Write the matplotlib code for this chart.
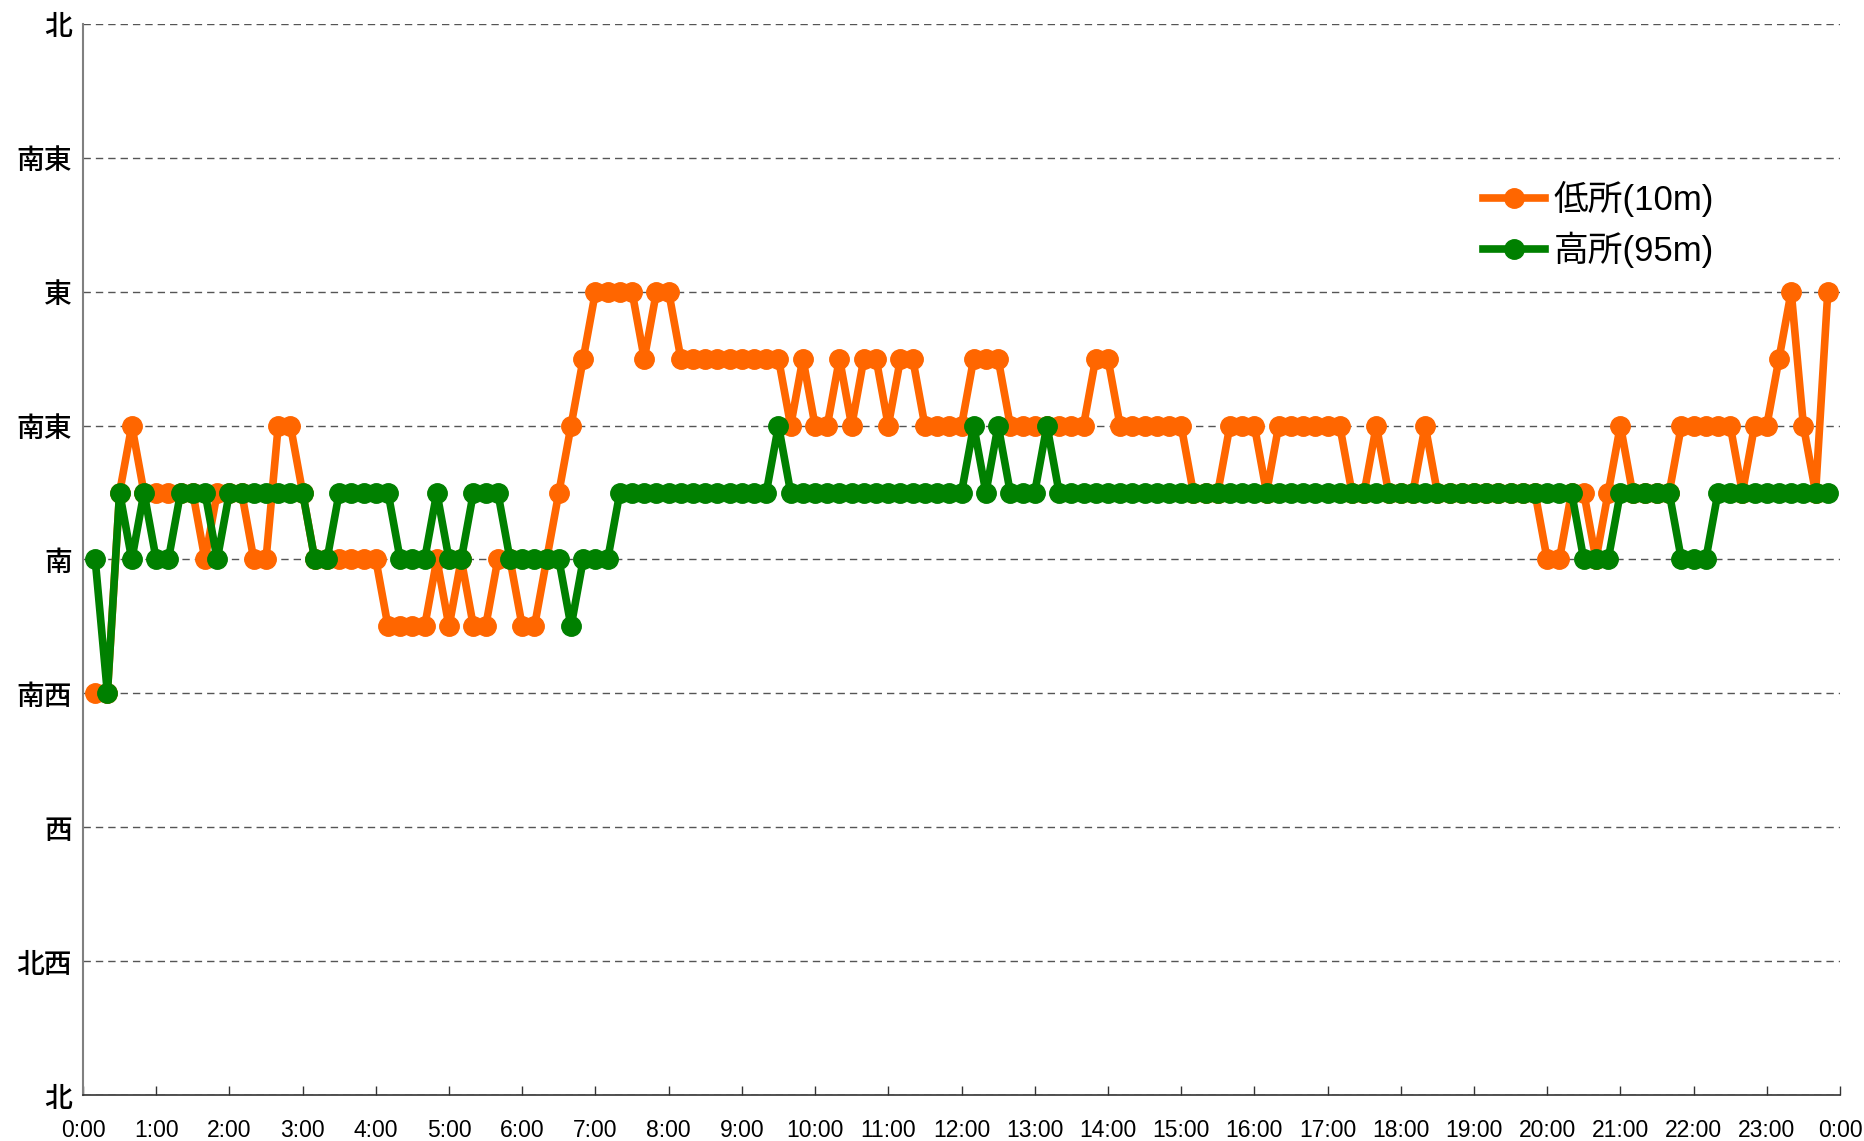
import matplotlib
matplotlib.use('Agg')
import matplotlib.pyplot as plt

# Wind direction every 10 minutes (0:10 .. 23:50).
# Scale: 0=北, 1=北西, 2=西, 3=南西, 4=南, 5=南東, 6=東, 7=北東, 8=北 (half steps = 16-point bearings)
minutes = list(range(10, 1440, 10))

low_10m = [
    3, 3, 4.5, 5, 4.5, 4.5, 4.5, 4.5, 4.5, 4, 4.5, 4.5,
    4.5, 4, 4, 5, 5, 4.5, 4, 4, 4, 4, 4, 4,
    3.5, 3.5, 3.5, 3.5, 4, 3.5, 4, 3.5, 3.5, 4, 4, 3.5,
    3.5, 4, 4.5, 5, 5.5, 6, 6, 6, 6, 5.5, 6, 6,
    5.5, 5.5, 5.5, 5.5, 5.5, 5.5, 5.5, 5.5, 5.5, 5, 5.5, 5,
    5, 5.5, 5, 5.5, 5.5, 5, 5.5, 5.5, 5, 5, 5, 5,
    5.5, 5.5, 5.5, 5, 5, 5, 5, 5, 5, 5, 5.5, 5.5,
    5, 5, 5, 5, 5, 5, 4.5, 4.5, 4.5, 5, 5, 5,
    4.5, 5, 5, 5, 5, 5, 5, 4.5, 4.5, 5, 4.5, 4.5,
    4.5, 5, 4.5, 4.5, 4.5, 4.5, 4.5, 4.5, 4.5, 4.5, 4.5, 4,
    4, 4.5, 4.5, 4, 4.5, 5, 4.5, 4.5, 4.5, 4.5, 5, 5,
    5, 5, 5, 4.5, 5, 5, 5.5, 6, 5, 4.5, 6,
]

high_95m = [
    4, 3, 4.5, 4, 4.5, 4, 4, 4.5, 4.5, 4.5, 4, 4.5,
    4.5, 4.5, 4.5, 4.5, 4.5, 4.5, 4, 4, 4.5, 4.5, 4.5, 4.5,
    4.5, 4, 4, 4, 4.5, 4, 4, 4.5, 4.5, 4.5, 4, 4,
    4, 4, 4, 3.5, 4, 4, 4, 4.5, 4.5, 4.5, 4.5, 4.5,
    4.5, 4.5, 4.5, 4.5, 4.5, 4.5, 4.5, 4.5, 5, 4.5, 4.5, 4.5,
    4.5, 4.5, 4.5, 4.5, 4.5, 4.5, 4.5, 4.5, 4.5, 4.5, 4.5, 4.5,
    5, 4.5, 5, 4.5, 4.5, 4.5, 5, 4.5, 4.5, 4.5, 4.5, 4.5,
    4.5, 4.5, 4.5, 4.5, 4.5, 4.5, 4.5, 4.5, 4.5, 4.5, 4.5, 4.5,
    4.5, 4.5, 4.5, 4.5, 4.5, 4.5, 4.5, 4.5, 4.5, 4.5, 4.5, 4.5,
    4.5, 4.5, 4.5, 4.5, 4.5, 4.5, 4.5, 4.5, 4.5, 4.5, 4.5, 4.5,
    4.5, 4.5, 4, 4, 4, 4.5, 4.5, 4.5, 4.5, 4.5, 4, 4,
    4, 4.5, 4.5, 4.5, 4.5, 4.5, 4.5, 4.5, 4.5, 4.5, 4.5,
]

dir_labels = ['北', '北西', '西', '南西', '南', '南東', '東', '南東', '北']
hour_ticks = list(range(0, 1441, 60))
hour_labels = [f'{(m // 60) % 24}:00' for m in hour_ticks]

series_names = ['低所(10m)', '高所(95m)']
series_colors = ['#FF6600', '#008000']

fig = plt.figure(figsize=(18.65, 11.41), dpi=100)
ax = fig.add_axes([0.0445, 0.0403, 0.9421, 0.9387])

for vals, name, col in zip([low_10m, high_95m], series_names, series_colors):
    ax.plot(minutes, vals, color=col, lw=5.5, marker='o', ms=14,
            mec=col, mfc=col, label=name, clip_on=False)

ax.set_xlim(0, 1440)
ax.set_ylim(0, 8)
ax.set_yticks(range(len(dir_labels)))
ax.set_yticklabels(dir_labels, fontfamily='Noto Sans CJK JP', fontsize=20, fontweight='medium')
ax.set_xticks(hour_ticks)
ax.set_xticklabels(hour_labels, fontfamily='Liberation Sans', fontsize=16.5)
ax.tick_params(axis='y', length=0, pad=8)
ax.tick_params(axis='x', direction='in', length=6.5, width=1, color='#333333', pad=17)

ax.grid(True, axis='y', color='#555555', lw=1, linestyle=(0, (5.3, 3.6)))
ax.set_axisbelow(True)
for s in ['top', 'right']:
    ax.spines[s].set_visible(False)
ax.spines['left'].set_color('#808080')
ax.spines['left'].set_linewidth(1.5)
ax.spines['bottom'].set_color('#333333')
ax.spines['bottom'].set_linewidth(1.2)

ax.legend(loc='upper left', bbox_to_anchor=(0.795, 0.841), bbox_transform=fig.transFigure,
          frameon=False, borderpad=0, borderaxespad=0, handlelength=1.8,
          handletextpad=0.25, labelspacing=0.4,
          prop={'family': ['Liberation Sans', 'Noto Sans CJK JP'], 'size': 25})

fig.savefig('out.png', dpi=100)
